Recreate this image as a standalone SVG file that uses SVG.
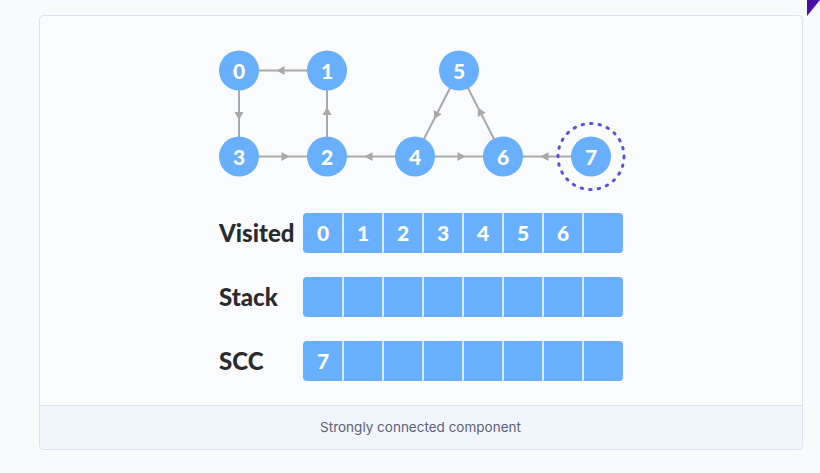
<svg xmlns="http://www.w3.org/2000/svg" width="820" height="473" viewBox="0 0 820 473">
<defs>
<style>
.edge{stroke:#a9a9a9;stroke-width:2;fill:none;marker-mid:url(#ah)}
.node circle.dot{fill:#68b0fd}
.node circle.ring{fill:none;stroke:#5a4fe0;stroke-width:3;stroke-dasharray:1.5 7.1;stroke-linecap:round}
.node text{fill:#ffffff;font-family:Lato,"Open Sans",sans-serif;font-weight:900;font-size:21px;text-anchor:middle}
.lbl{fill:#2b2b2e;font-family:Lato,"Open Sans",sans-serif;font-weight:900;font-size:24px}
.row rect.bg{fill:#68b0fd}
.row line{stroke:#ffffff;stroke-width:1.5}
.row text{fill:#ffffff;font-family:Lato,"Open Sans",sans-serif;font-weight:900;font-size:21px;text-anchor:middle}
</style>
<marker id="ah" markerUnits="userSpaceOnUse" markerWidth="20" markerHeight="20" refX="0" refY="0" viewBox="-10 -10 20 20" orient="auto">
<polygon points="-1.5,-4.5 6.5,0 -1.5,4.5" fill="#a9a9a9"/>
</marker>
</defs>
<rect x="0" y="0" width="820" height="473" fill="#f9fafc"/>
<polygon points="807,0 820,0 807,16" fill="#4c0fa6"/>
<g id="card">
<rect x="39.5" y="15.5" width="763" height="434" rx="4" fill="#fafbfd" stroke="#dde1e9"/>
<path d="M40,405.5 H802 V445 a4,4 0 0 1 -4,4 H44 a4,4 0 0 1 -4,-4 Z" fill="#f1f5fc"/>
<line x1="40" y1="405.5" x2="802" y2="405.5" stroke="#dde1e9"/>
<text x="420.5" y="432" font-family="Inter,'Noto Sans',sans-serif" font-size="13.5" fill="#5c6178" text-anchor="middle">Strongly connected component</text>
</g>
<g id="connectors">
<path class="edge" d="M327,70.5 L283,70.5 L239,70.5"/>
<path class="edge" d="M239,70.5 L239,113.5 L239,156.5"/>
<path class="edge" d="M239,156.5 L283,156.5 L327,156.5"/>
<path class="edge" d="M327,156.5 L327,113.5 L327,70.5"/>
<path class="edge" d="M415,156.5 L371,156.5 L327,156.5"/>
<path class="edge" d="M415,156.5 L459,156.5 L503,156.5"/>
<path class="edge" d="M459,70.5 L437,113.5 L415,156.5"/>
<path class="edge" d="M503,156.5 L481,113.5 L459,70.5"/>
<path class="edge" d="M591,156.5 L547,156.5 L503,156.5"/>
</g>
<g id="node0" class="node"><circle class="dot" cx="239" cy="70.5" r="20"/><text x="239" y="78.5">0</text></g>
<g id="node1" class="node"><circle class="dot" cx="327" cy="70.5" r="20"/><text x="327" y="78.5">1</text></g>
<g id="node2" class="node"><circle class="dot" cx="327" cy="156.5" r="20"/><text x="327" y="164.5">2</text></g>
<g id="node3" class="node"><circle class="dot" cx="239" cy="156.5" r="20"/><text x="239" y="164.5">3</text></g>
<g id="node4" class="node"><circle class="dot" cx="415" cy="156.5" r="20"/><text x="415" y="164.5">4</text></g>
<g id="node5" class="node"><circle class="dot" cx="459" cy="70.5" r="20"/><text x="459" y="78.5">5</text></g>
<g id="node6" class="node"><circle class="dot" cx="503" cy="156.5" r="20"/><text x="503" y="164.5">6</text></g>
<g id="node7" class="node"><circle class="dot" cx="591" cy="156.5" r="20"/><text x="591" y="164.5">7</text>
<circle class="ring" cx="591" cy="156.5" r="33"/></g>
<g id="visited" class="row">
<text class="lbl" x="219" y="242" style="fill:#2b2b2e;text-anchor:start;font-size:24px">Visited</text>
<rect class="bg" x="303" y="213" width="320" height="40" rx="4"/>
<line x1="343" y1="213" x2="343" y2="253"/><line x1="383" y1="213" x2="383" y2="253"/><line x1="423" y1="213" x2="423" y2="253"/><line x1="463" y1="213" x2="463" y2="253"/><line x1="503" y1="213" x2="503" y2="253"/><line x1="543" y1="213" x2="543" y2="253"/><line x1="583" y1="213" x2="583" y2="253"/>
<text x="323" y="241">0</text><text x="363" y="241">1</text><text x="403" y="241">2</text><text x="443" y="241">3</text><text x="483" y="241">4</text><text x="523" y="241">5</text><text x="563" y="241">6</text>
</g>
<g id="stack" class="row">
<text class="lbl" x="219" y="306" style="fill:#2b2b2e;text-anchor:start;font-size:24px">Stack</text>
<rect class="bg" x="303" y="277" width="320" height="40" rx="4"/>
<line x1="343" y1="277" x2="343" y2="317"/><line x1="383" y1="277" x2="383" y2="317"/><line x1="423" y1="277" x2="423" y2="317"/><line x1="463" y1="277" x2="463" y2="317"/><line x1="503" y1="277" x2="503" y2="317"/><line x1="543" y1="277" x2="543" y2="317"/><line x1="583" y1="277" x2="583" y2="317"/>
</g>
<g id="scc" class="row">
<text class="lbl" x="219" y="370" style="fill:#2b2b2e;text-anchor:start;font-size:24px">SCC</text>
<rect class="bg" x="303" y="341" width="320" height="40" rx="4"/>
<line x1="343" y1="341" x2="343" y2="381"/><line x1="383" y1="341" x2="383" y2="381"/><line x1="423" y1="341" x2="423" y2="381"/><line x1="463" y1="341" x2="463" y2="381"/><line x1="503" y1="341" x2="503" y2="381"/><line x1="543" y1="341" x2="543" y2="381"/><line x1="583" y1="341" x2="583" y2="381"/>
<text x="323" y="369">7</text>
</g>
</svg>
